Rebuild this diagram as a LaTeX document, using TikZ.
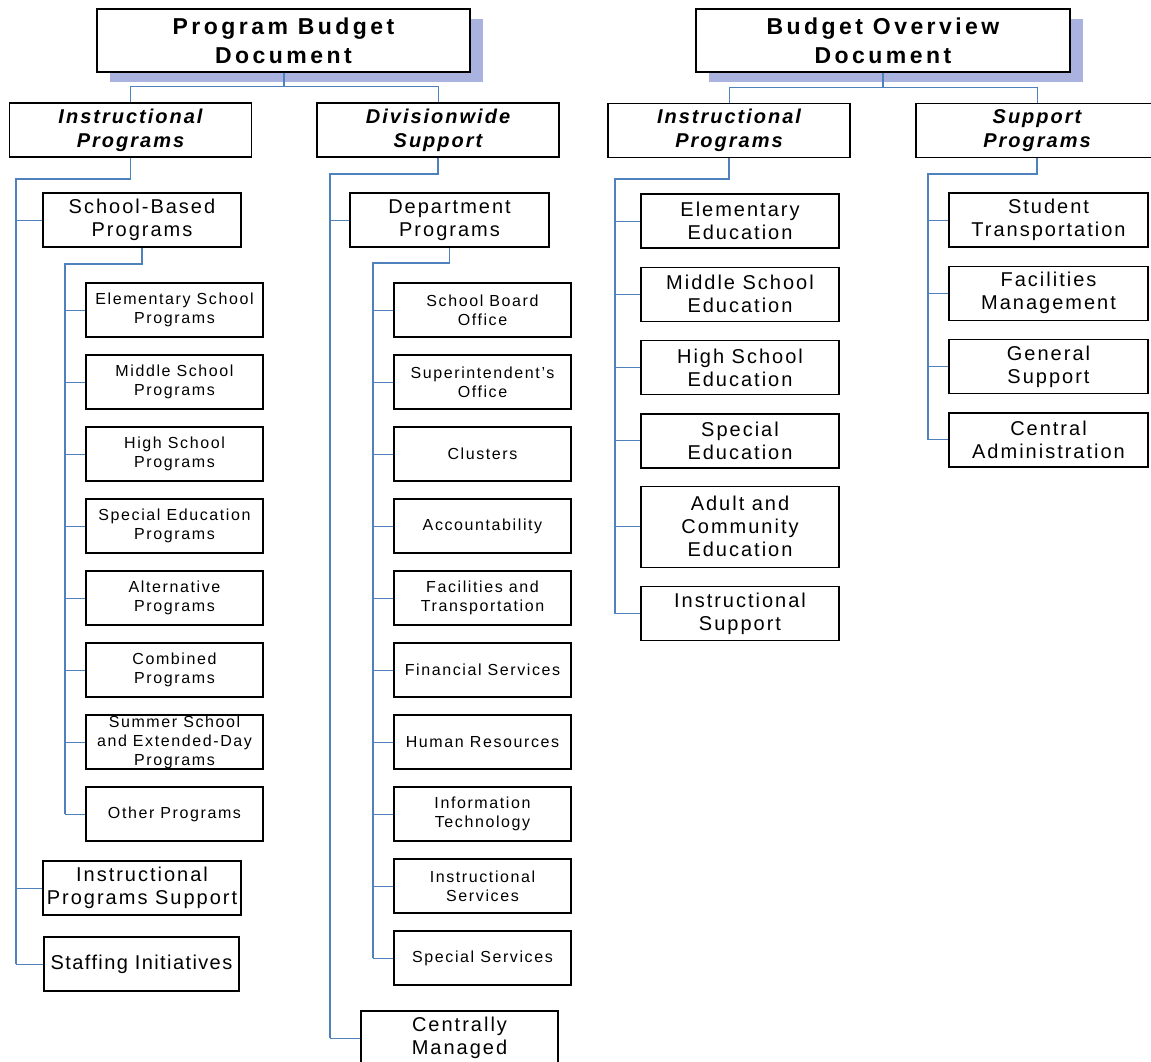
\documentclass[tikz,border=0pt]{standalone}
\usepackage{fontspec}
\setmainfont{Liberation Sans}
\newfontfamily\headfont[LetterSpace=15]{Liberation Sans}
\newfontfamily\chartfont[LetterSpace=10]{Liberation Sans}
\newfontfamily\tightfont[LetterSpace=7]{Liberation Sans}
\usepackage{tikz}
\usetikzlibrary{shadows, positioning}
\definecolor{linkblue}{RGB}{79,129,189}
\definecolor{shadowblue}{RGB}{170,178,224}

\tikzset{
  box/.style={draw=black, line width=1.3pt, fill=white, inner sep=0pt, align=center, minimum height=54pt},
  headbox/.style={box, minimum width=373pt, minimum height=63pt,
    font=\headfont\bfseries\fontsize{23}{29}\selectfont,
    drop shadow={shadow xshift=13pt, shadow yshift=-10pt, fill=shadowblue, opacity=1}},
  topbox/.style={box, minimum width=242pt, font=\chartfont\bfseries\itshape\fontsize{20}{24}\selectfont},
  midbox/.style={box, minimum width=198pt, font=\chartfont\fontsize{20}{23}\selectfont},
  smallbox/.style={box, minimum width=177pt, font=\chartfont\fontsize{16}{19}\selectfont},
  link/.style={draw=linkblue, line width=1pt},
  stem/.style={draw=linkblue, line width=2pt},
  trunk/.style={draw=linkblue, line width=1.8pt}
}

\begin{document}
\begin{tikzpicture}[x=1pt, y=-1pt]
    \useasboundingbox (0,0) rectangle (1151,1061);
    \clip (0,0) rectangle (1151,1061);

    % Program Budget Document and its two branches
    \node[headbox] (pbd) at (283.5,40.5) {Program Budget\\Document};
    \node[topbox] (pbdInstr) at (130.5,130) {Instructional\\Programs};
    \node[topbox] (pbdDiv) at (438,130) {Divisionwide\\Support};
    \draw[stem] (pbd.south) -- ++(0,14) coordinate (jPbd);
    \draw[link] (pbdInstr.north) |- (jPbd) -| (pbdDiv.north);

    % Instructional Programs
    \coordinate (jIP) at (16,179);
    \coordinate (jSB) at (65,264);
    \node[midbox] (sbp) at (142,220) {School-Based\\Programs};
    \foreach \lbl [count=\i from 0] in {{Elementary School\\Programs}, {Middle School\\Programs},
        {High School\\Programs}, {Special Education\\Programs}, {Alternative\\Programs},
        {Combined\\Programs}, {Summer School\\and Extended-Day\\Programs}, {Other Programs}}
    {
        \node[smallbox] (sbp\i) at (174.5,{310+72*\i}) {\lbl};
        \draw[link] (sbp\i.west -| jSB) -- (sbp\i.west);
    }
    \draw[trunk] (sbp.south) |- (jSB) -- (sbp7.west -| jSB);
    \node[midbox] (ips) at (142,888) {Instructional\\Programs Support};
    \node[midbox, minimum width=195pt, font=\tightfont\fontsize{20}{23}\selectfont] (sti) at (141.5,964) {Staffing Initiatives};
    \draw[trunk] (pbdInstr.south) |- (jIP) -- (sti.west -| jIP);
    \foreach \n in {sbp, ips, sti}
        \draw[link] (\n.west -| jIP) -- (\n.west);

    % Divisionwide Support
    \coordinate (jDS) at (330,174);
    \coordinate (jDP) at (373,263);
    \node[midbox, minimum width=199pt] (dep) at (449.5,220) {Department\\Programs};
    \foreach \lbl [count=\i from 0] in {{School Board\\Office}, {Superintendent’s\\Office},
        {Clusters}, {Accountability}, {Facilities and\\Transportation}, {Financial Services},
        {Human Resources}, {Information\\Technology}, {Instructional\\Services}, {Special Services}}
    {
        \node[smallbox] (dep\i) at (482.5,{310+72*\i}) {\lbl};
        \draw[link] (dep\i.west -| jDP) -- (dep\i.west);
    }
    \draw[trunk] (dep.south) |- (jDP) -- (dep9.west -| jDP);
    \node[midbox, minimum width=197pt] (cmg) at (459.5,1038) {Centrally\\Managed};
    \draw[trunk] (pbdDiv.south) |- (jDS) -- (cmg.west -| jDS);
    \foreach \n in {dep, cmg}
        \draw[link] (\n.west -| jDS) -- (\n.west);

    % Budget Overview Document and its two branches
    \node[headbox, minimum width=374pt] (bod) at (883,40.5) {Budget Overview\\Document};
    \node[topbox] (bodInstr) at (729,130.5) {Instructional\\Programs};
    \node[topbox] (bodSup) at (1037,130.5) {Support\\Programs};
    \draw[stem] (bod.south) -- ++(0,15) coordinate (jBod);
    \draw[link] (bodInstr.north) |- (jBod) -| (bodSup.north);

    % Instructional Programs (overview)
    \coordinate (jBI) at (615,179);
    \node[midbox] (edu0) at (740,221) {Elementary\\Education};
    \node[midbox, below=18pt of edu0] (edu1) {Middle School\\Education};
    \node[midbox, below=18pt of edu1] (edu2) {High School\\Education};
    \node[midbox, below=18pt of edu2] (edu3) {Special\\Education};
    \node[midbox, minimum height=81pt, below=17pt of edu3] (edu4) {Adult and\\Community\\Education};
    \node[midbox, below=18pt of edu4] (edu5) {Instructional\\Support};
    \draw[trunk] (bodInstr.south) |- (jBI) -- (edu5.west -| jBI);
    \foreach \i in {0,...,5}
        \draw[link] (edu\i.west -| jBI) -- (edu\i.west);

    % Support Programs
    \coordinate (jBS) at (928,174);
    \node[midbox, minimum width=199pt] (sup0) at (1048.5,220) {Student\\Transportation};
    \node[midbox, minimum width=199pt, below=18pt of sup0] (sup1) {Facilities\\Management};
    \node[midbox, minimum width=199pt, below=18pt of sup1] (sup2) {General\\Support};
    \node[midbox, minimum width=199pt, below=18pt of sup2] (sup3) {Central\\Administration};
    \draw[trunk] (bodSup.south) |- (jBS) -- (sup3.west -| jBS);
    \foreach \i in {0,...,3}
        \draw[link] (sup\i.west -| jBS) -- (sup\i.west);
\end{tikzpicture}
\end{document}
